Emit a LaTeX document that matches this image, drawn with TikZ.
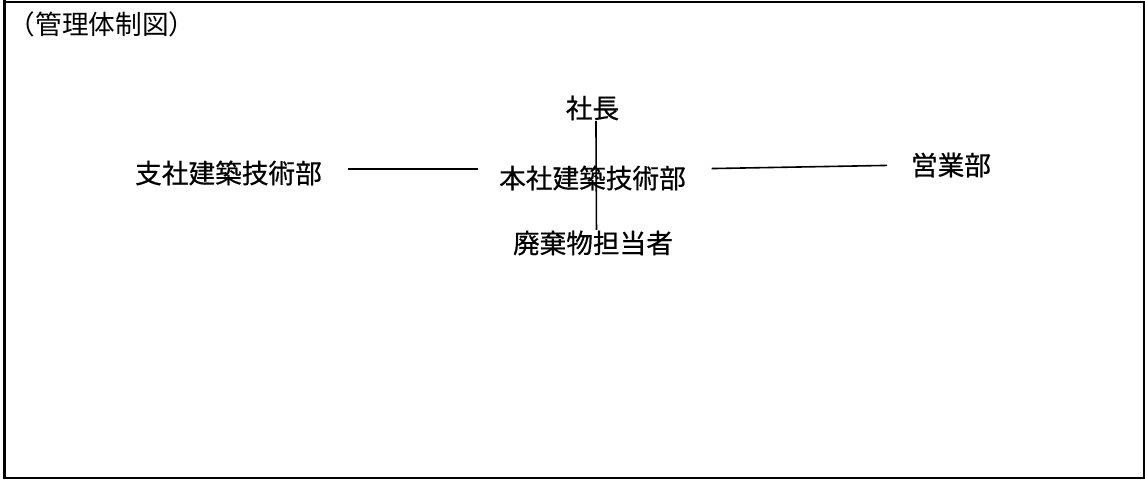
\documentclass[tikz,border=0pt]{standalone}
\usepackage{fontspec}
\newfontfamily\jpfont{Noto Sans CJK JP}
\newfontfamily\jpboldfont[FakeBold=0.5]{Noto Sans CJK JP}
\begin{document}
\begin{tikzpicture}[x=0.75pt, y=-0.75pt, line width=1.2pt,
    every node/.style={font=\jpboldfont\fontsize{20pt}{24pt}\selectfont, inner sep=0pt}]
    \useasboundingbox (0,0) rectangle (1145,479);
    % Frame
    \draw[line width=1.5pt] (4.5,1.5) rectangle (1144,478);
    \draw[line width=2.4pt] (4.5,0) -- (4.5,479);

    \node[anchor=west, font=\jpfont\fontsize{20pt}{24pt}\selectfont] (title) at (8,24) {（管理体制図）};

    % Organisation
    \node (shacho) at (592.5,108) {社長};
    \node (honsha) at (592.5,178) {本社建築技術部};
    \node (haiki) at (593,243) {廃棄物担当者};
    \node (shisha) at (228.5,173) {支社建築技術部};
    \node (eigyo) at (951,165) {営業部};

    \draw[shorten <=18.75pt, shorten >=15pt] ([yshift=3pt]shisha.east) -- ([yshift=3pt]shisha.east -| honsha.west);
    \draw[shorten <=18.75pt, shorten >=17.25pt] ([yshift=6.75pt]honsha.east) -- (eigyo.west);
    \draw ([xshift=2.6pt]shacho.south) -- ([xshift=2.6pt]haiki.north);
\end{tikzpicture}
\end{document}
